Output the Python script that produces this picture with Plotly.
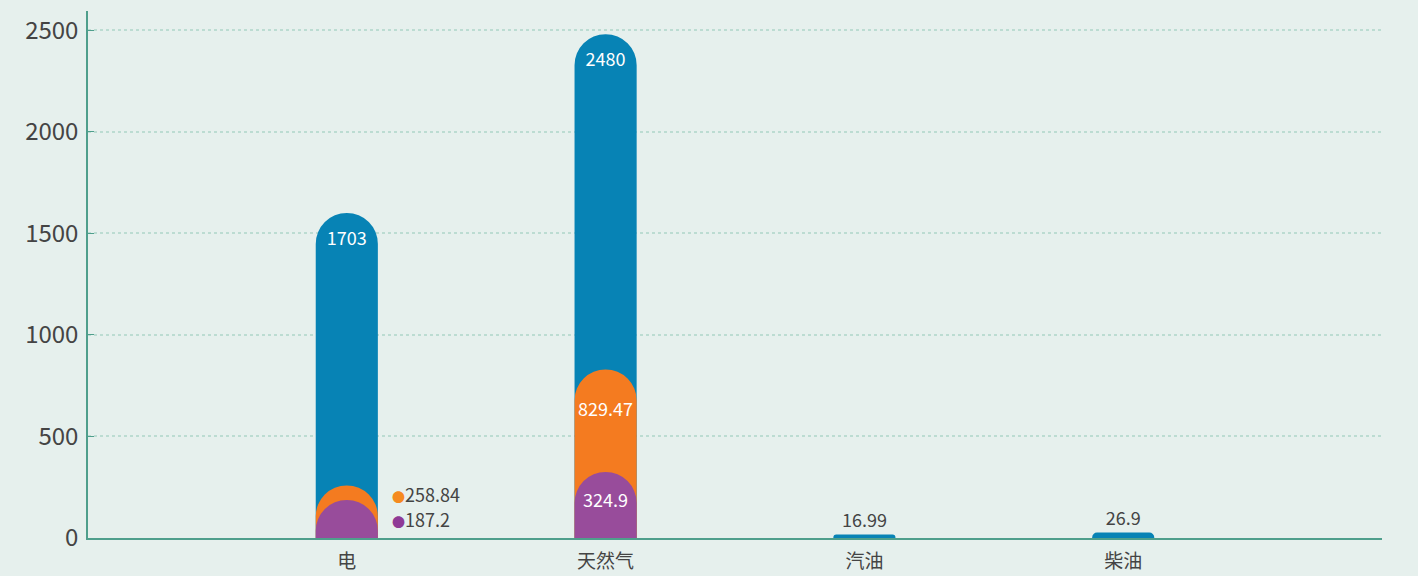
import plotly.graph_objects as go

categories = ["电", "天然气", "汽油", "柴油"]
# value labels shown on the blue bars, and the bar heights as drawn in the picture
blue_labels = ["1703", "2480", "16.99", "26.9"]
blue_vals = [1600, 2480, 16.99, 26.9]
orange_vals = [258.84, 829.47, None, None]
purple_vals = [187.2, 324.9, None, None]
y_ticks = [0, 500, 1000, 1500, 2000, 2500]

FONT = "Noto Sans CJK SC"
LBL = 18
x = list(range(len(categories)))
BW = 0.24
XR = [-1, len(categories)]

def labels(vals):
    return ["" if v is None else f"{v:g}" for v in vals]

fig = go.Figure()
fig.add_trace(go.Bar(
    x=x, y=blue_vals, width=BW, name="series1", xaxis="x",
    marker=dict(color="#0783b5", cornerradius="50%", line=dict(width=0)),
    text=blue_labels,
    textposition=["inside" if v > 100 else "outside" for v in blue_vals],
    insidetextanchor="end", cliponaxis=False, textangle=0,
    insidetextfont=dict(color="white", size=LBL, family=FONT),
    outsidetextfont=dict(color="#444444", size=LBL, family=FONT),
))
o_text = [labels(orange_vals)[i] if (orange_vals[i] or 0) > 500 else "" for i in x]
fig.add_trace(go.Bar(
    x=x, y=orange_vals, width=BW, name="series2", xaxis="x2",
    marker=dict(color="#f47b20", cornerradius="50%", line=dict(width=0)),
    text=o_text, textposition="inside", insidetextanchor="end", textangle=0,
    insidetextfont=dict(color="white", size=LBL, family=FONT),
))
p_text = [labels(purple_vals)[i] if (purple_vals[i] or 0) > 300 else "" for i in x]
fig.add_trace(go.Bar(
    x=x, y=purple_vals, width=BW, name="series3", xaxis="x3",
    marker=dict(color="#984c9b", cornerradius="50%", line=dict(width=0)),
    text=p_text, textposition="inside", insidetextanchor="end", textangle=0,
    insidetextfont=dict(color="white", size=LBL, family=FONT),
))

# side labels for the small orange / purple values
for i in x:
    for vals, col, shift, lim in ((orange_vals, "#f58a1f", 18, 500),
                                  (purple_vals, "#8e3a96", 0, 300)):
        v = vals[i]
        if v is not None and v <= lim:
            fig.add_annotation(
                x=i + BW / 2 + 0.045, y=v / 2, yshift=shift, xanchor="left",
                showarrow=False,
                text=f"<span style='color:{col};font-size:13px'>●</span>{v:g}",
                font=dict(color="#444444", size=LBL, family=FONT),
            )

hidden_x = dict(range=XR, overlaying="x", visible=False, showgrid=False,
                zeroline=False, automargin=False)
fig.update_layout(
    width=1418, height=576,
    margin=dict(l=88, r=36, t=11, b=38, autoexpand=False),
    paper_bgcolor="#e6f0ed", plot_bgcolor="#e6f0ed",
    barmode="overlay", showlegend=False,
    font=dict(family=FONT, color="#444444"),
    xaxis=dict(
        tickmode="array", tickvals=x, ticktext=categories, automargin=False,
        range=XR, showgrid=False, zeroline=False,
        showline=True, linecolor="#4f9f8c", linewidth=1.5,
        ticks="", ticklabelstandoff=5,
        tickfont=dict(size=19, color="#444444", family=FONT),
    ),
    xaxis2=hidden_x,
    xaxis3=hidden_x,
    yaxis=dict(
        range=[0, 2594], tickvals=y_ticks, showgrid=True, automargin=False,
        gridcolor="#bcdcd2", griddash="dot", gridwidth=1.5, zeroline=False,
        showline=True, linecolor="#4f9f8c", linewidth=1.5,
        ticks="inside", ticklen=6, tickcolor="#4f9f8c", ticklabelstandoff=3,
        tickfont=dict(size=24, color="#444444", family=FONT),
    ),
)

fig.write_html("out.html", config={"displayModeBar": False},
               post_script="document.body.style.margin='0px';")
